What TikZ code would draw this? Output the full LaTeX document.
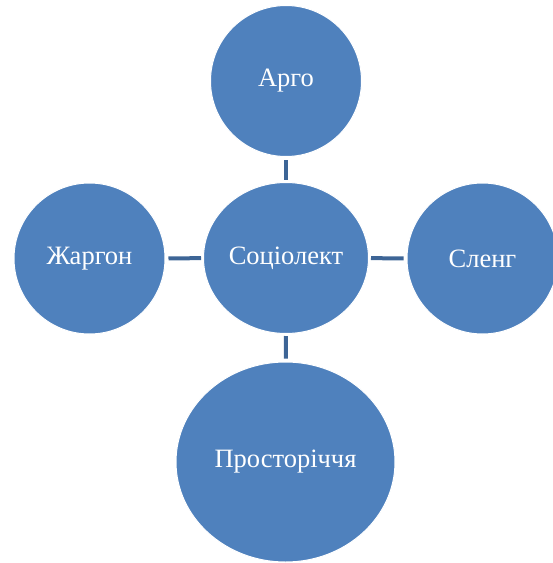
\documentclass[tikz,border=0pt]{standalone}
\usepackage{fontspec}
\setmainfont{Liberation Serif}
\usetikzlibrary{shapes}
\definecolor{nodeblue}{HTML}{4F81BD}
\definecolor{lineblue}{HTML}{3D6596}
\begin{document}
\begin{tikzpicture}[x=1pt, y=-1pt]
    \tikzstyle{cnode} = [ellipse, fill=nodeblue, draw=white, line width=1pt, inner sep=0pt, text=white, align=center, font=\fontsize{26.5}{30}\selectfont]
    \tikzstyle{link} = [draw=lineblue, line width=4pt, shorten <=3pt, shorten >=2pt]
    \useasboundingbox (0,0) rectangle (553,563);
    % central node
    \node[cnode, minimum width=165pt, minimum height=151pt] (socio) at (286, 258) {Соціолект};
    % outer nodes
    \node[cnode, minimum width=151pt, minimum height=151pt] (argo) at (286, 81) {Арго};
    \node[cnode, minimum width=151pt, minimum height=151pt] (zhargon) at (89.5, 258.5) {Жаргон};
    \node[cnode, minimum width=151pt, minimum height=151pt] (sleng) at (482.5, 258.5) {Сленг};
    \node[cnode, minimum width=219pt, minimum height=200pt] (prost) at (285.5, 462) {Просторіччя};

    \draw[link] (argo) -- (socio);
    \draw[link] (zhargon) -- (socio);
    \draw[link] (sleng) -- (socio);
    \draw[link] (prost) -- (socio);
\end{tikzpicture}
\end{document}
